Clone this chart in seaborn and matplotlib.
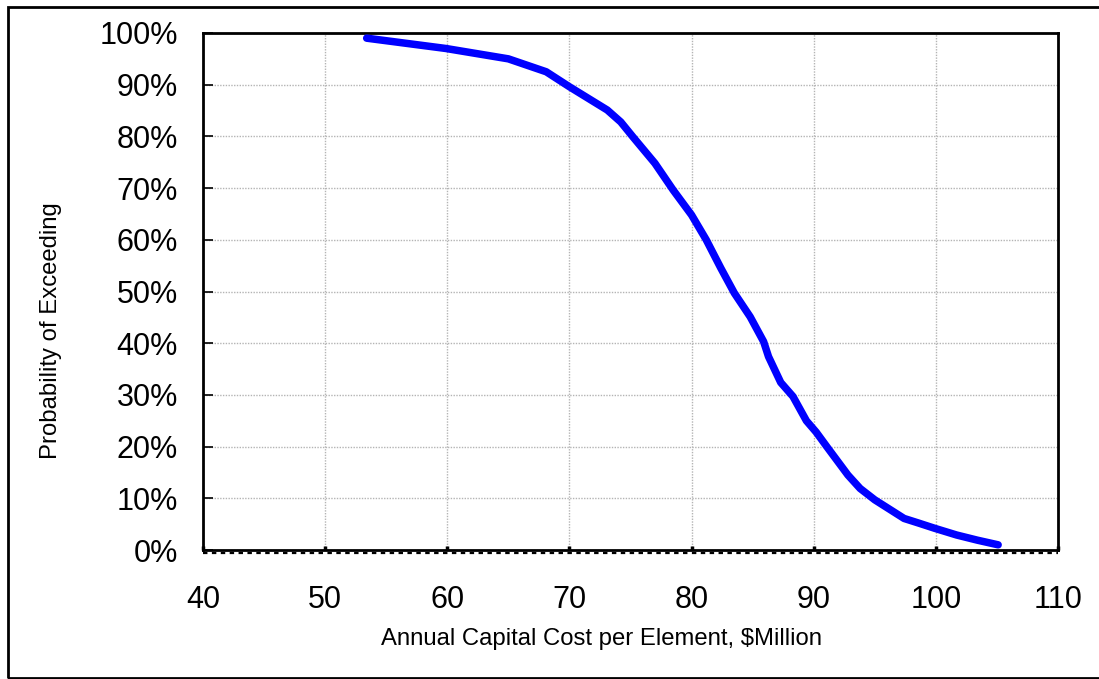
import numpy as np
import pandas as pd
import matplotlib
matplotlib.use("Agg")
import matplotlib.pyplot as plt
import seaborn as sns
from matplotlib.ticker import PercentFormatter
from matplotlib.patches import Rectangle

# Data
cost = [53.4, 59.9, 65.0, 68.1, 70.0, 73.1, 74.2, 75.2, 77.0, 78.5, 80.0, 81.2,
        82.4, 83.5, 84.8, 85.9, 86.3, 87.3, 88.3, 89.4, 90.2, 91.1, 92.8, 93.8,
        95.0, 97.4, 98.6, 99.9, 101.7, 103.4, 105.1]
prob = [99.0, 97.0, 95.0, 92.5, 89.6, 85.1, 82.8, 79.9, 74.8, 69.6, 64.8, 60.0,
        54.5, 49.7, 45.1, 40.3, 37.4, 32.4, 29.7, 25.0, 22.8, 19.9, 14.5, 11.9,
        9.7, 6.1, 5.2, 4.2, 2.9, 1.9, 1.0]
x_ticks = [40, 50, 60, 70, 80, 90, 100, 110]
y_ticks = [0, 10, 20, 30, 40, 50, 60, 70, 80, 90, 100]
x_label = "Annual Capital Cost per Element, $Million"
y_label = "Probability of Exceeding"

sns.set_style("white")
plt.rcParams['font.family'] = ['Liberation Sans', 'DejaVu Sans']
plt.rcParams['text.color'] = 'black'
plt.rcParams['axes.labelcolor'] = 'black'
plt.rcParams['xtick.color'] = 'black'
plt.rcParams['ytick.color'] = 'black'

df = pd.DataFrame({"cost": cost, "prob": prob})

fig = plt.figure(figsize=(10.99, 6.79), dpi=100)
W, H = 1099, 679
ax = fig.add_axes([203 / W, (H - 550) / H, (1058 - 203) / W, (550 - 33) / H])

sns.lineplot(data=df, x="cost", y="prob", sort=False, ax=ax,
             color="#0000FF", linewidth=5.4, zorder=3)

ax.set_xlim(40, 110)
ax.set_ylim(0, 100)
ax.set_xticks(x_ticks)
ax.set_yticks(y_ticks)
ax.yaxis.set_major_formatter(PercentFormatter(decimals=0))

ax.grid(True, color="#b4b4b4", linestyle=(0, (1, 1)), linewidth=1.0, zorder=0)
for s in ax.spines.values():
    s.set_color("black")
    s.set_linewidth(2.0)
    s.set_visible(True)

ax.tick_params(axis="y", direction="in", length=7, width=1.2, color="black",
               labelcolor="black", labelsize=22, pad=18, left=True, right=False)
ax.tick_params(axis="x", direction="in", length=3, width=2.5, color="black",
               labelcolor="black", labelsize=22, pad=25, bottom=True, top=False)

ax.set_xlabel(x_label, fontsize=17.2, color="black")
ax.set_ylabel(y_label, fontsize=17.2, color="black")
ax.xaxis.set_label_coords(0.4655, -0.150)
ax.yaxis.set_label_coords(-0.165, 0.424)

# dashed edge below the bottom axis
ax.plot([0, 1], [-0.006, -0.006], transform=ax.transAxes, color="black",
        linestyle=(0, (2, 2)), linewidth=1.6, clip_on=False, zorder=4)

# outer border of the figure
fig.patches.append(Rectangle((7.5 / W, 1.5 / H), 1.2, (H - 6.5 - 1.5) / H,
                             transform=fig.transFigure, fill=False,
                             edgecolor="black", linewidth=2.0))

fig.savefig("out.png", dpi=100, facecolor="white")
